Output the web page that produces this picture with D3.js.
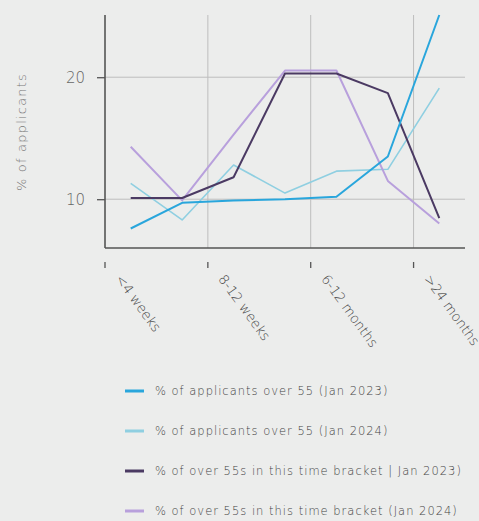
<html>
  <head>
    <meta charset="utf-8">
    <title>Over 55s applicants by time bracket</title>
    <style>
      body { margin: 0; background: #ecedec; }
      text { font-family: "DejaVu Sans", sans-serif; font-weight: 300; }
    </style>
  </head>
  <body>
    <div id="container"></div>
  </body>

  <script src="https://cdn.jsdelivr.net/npm/d3@7/dist/d3.min.js"></script>

  <script>
  var categories = ["<4 weeks", "4-8 weeks", "8-12 weeks", "3-6 months", "6-12 months", "12-24 months", ">24 months"];
  var labelledCategories = ["<4 weeks", "8-12 weeks", "6-12 months", ">24 months"];
  var yTicks = [10, 20];

  var applicants2023 = [7.6, 9.7, 9.9, 10.0, 10.2, 13.5, 25.1];
  var applicants2024 = [11.3, 8.3, 12.8, 10.5, 12.3, 12.45, 19.1];
  var bracket2023 = [10.1, 10.1, 11.8, 20.3, 20.3, 18.7, 8.45];
  var bracket2024 = [14.3, 9.9, 15.3, 20.55, 20.55, 11.5, 8.0];

  var seriesNames = [
    "% of applicants over 55 (Jan 2023)",
    "% of applicants over 55 (Jan 2024)",
    "% of over 55s in this time bracket | Jan 2023)",
    "% of over 55s in this time bracket (Jan 2024)"
  ];

  function main() {
    var width = 479, height = 521;
    var left = 105, right = 465, top = 15, bottom = 248;

    var svg = d3.select("#container").append("svg")
      .attr("width", width)
      .attr("height", height);

    var x = d3.scaleBand()
      .domain(categories)
      .range([left, right]);

    var y = d3.scaleLinear()
      .domain([6.0, 25.1])
      .range([bottom, top]);

    var series = [
      { name: seriesNames[0], values: applicants2023, color: "#29a6dc", width: 2 },
      { name: seriesNames[1], values: applicants2024, color: "#8fcfe1", width: 1.6 },
      { name: seriesNames[2], values: bracket2023, color: "#4b3a63", width: 2 },
      { name: seriesNames[3], values: bracket2024, color: "#b8a0dc", width: 2 }
    ];

    // grid
    svg.append("g").selectAll("line.hg")
      .data(yTicks).enter().append("line")
      .attr("x1", left).attr("x2", right)
      .attr("y1", function(d) { return y(d); })
      .attr("y2", function(d) { return y(d); })
      .attr("stroke", "#bdbdbd").attr("stroke-width", 1);

    svg.append("g").selectAll("line.vg")
      .data(labelledCategories.slice(1)).enter().append("line")
      .attr("x1", function(d) { return x(d); })
      .attr("x2", function(d) { return x(d); })
      .attr("y1", top).attr("y2", bottom)
      .attr("stroke", "#bdbdbd").attr("stroke-width", 1);

    // y axis
    var yAxis = svg.append("g")
      .attr("transform", "translate(" + left + ",0)")
      .call(d3.axisLeft(y).tickValues(yTicks).tickSize(8).tickPadding(12));
    yAxis.select(".domain").remove();
    yAxis.selectAll(".tick line").attr("stroke", "#555").attr("stroke-width", 1.3);
    yAxis.selectAll("text")
      .attr("fill", "#666").attr("font-size", 15)
      .style("font-family", "'DejaVu Sans', sans-serif");

    svg.append("line")
      .attr("x1", left).attr("x2", left)
      .attr("y1", top).attr("y2", bottom)
      .attr("stroke", "#555").attr("stroke-width", 1.6);
    svg.append("line")
      .attr("x1", left).attr("x2", right)
      .attr("y1", bottom).attr("y2", bottom)
      .attr("stroke", "#555").attr("stroke-width", 1.6);

    svg.append("text")
      .attr("transform", "translate(26,132) rotate(-90)")
      .attr("text-anchor", "middle")
      .attr("fill", "#777")
      .attr("font-size", 13)
      .attr("letter-spacing", 1.2)
      .text("% of applicants");

    // x ticks below the axis, at band starts
    var xt = svg.append("g").selectAll("g")
      .data(labelledCategories).enter().append("g")
      .attr("transform", function(d) { return "translate(" + x(d) + ",0)"; });
    xt.append("line")
      .attr("y1", 262).attr("y2", 268)
      .attr("stroke", "#555").attr("stroke-width", 1.3);
    xt.append("text")
      .attr("transform", "translate(10,279) rotate(54)")
      .attr("fill", "#444")
      .attr("font-size", 13.5)
      .text(function(d) { return d; });

    // lines
    var line = d3.line()
      .x(function(d, i) { return x(categories[i]) + x.bandwidth() / 2; })
      .y(function(d) { return y(d); });

    var drawOrder = [1, 3, 2, 0];
    svg.append("g").selectAll("path")
      .data(drawOrder.map(function(i) { return series[i]; }))
      .enter().append("path")
      .attr("fill", "none")
      .attr("stroke", function(d) { return d.color; })
      .attr("stroke-width", function(d) { return d.width; })
      .attr("stroke-linejoin", "round")
      .attr("d", function(d) { return line(d.values); });

    // legend
    var legend = svg.append("g").selectAll("g")
      .data(series).enter().append("g")
      .attr("transform", function(d, i) { return "translate(125," + (391 + i * 40) + ")"; });
    legend.append("line")
      .attr("x1", 0).attr("x2", 19)
      .attr("stroke", function(d) { return d.color; })
      .attr("stroke-width", 3);
    legend.append("text")
      .attr("x", 30).attr("dy", "0.35em")
      .attr("fill", "#444")
      .attr("font-size", 11.5)
      .attr("letter-spacing", 1)
      .text(function(d) { return d.name; });
  }

  window.onload = main;
  </script>
</html>
